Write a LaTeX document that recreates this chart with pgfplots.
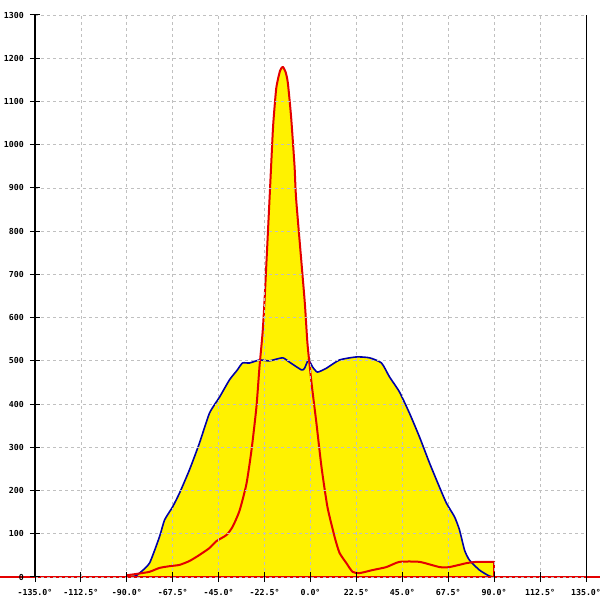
\documentclass[border=0pt]{standalone}
\usepackage{fontspec}
\setmonofont{DejaVu Sans Mono}
\usepackage{pgfplots}
\pgfplotsset{compat=1.18}
\definecolor{cred}{RGB}{228,0,0}
\definecolor{cblue}{RGB}{0,0,170}
\definecolor{cgrid}{RGB}{192,192,192}
\begin{document}
\begin{tikzpicture}
\useasboundingbox (-26.25pt,-17.25pt) rectangle (423.75pt,432.75pt);
\begin{axis}[
  at={(0,0)}, anchor=south west,
  scale only axis, width=413.25pt, height=421.5pt,
  xmin=-135, xmax=135, ymin=0, ymax=1300,
  clip=false,
  axis on top,
  axis line style={draw=none},
  tick pos=left,
  tick align=center,
  major tick length=7.5pt,
  every tick/.style={black, line width=0.75pt},
  xmajorgrids, ymajorgrids,
  grid style={cgrid, line width=0.6pt, dash pattern=on 2.25pt off 2.25pt},
  xtick={-135,-112.5,-90,-67.5,-45,-22.5,0,22.5,45,67.5,90,112.5,135},
  xticklabels={-135.0°,-112.5°,-90.0°,-67.5°,-45.0°,-22.5°,0.0°,22.5°,45.0°,67.5°,90.0°,112.5°,135.0°},
  ytick={0,100,...,1300},
  yticklabels={0,100,200,300,400,500,600,700,800,900,1000,1100,1200,1300},
  tick label style={font=\ttfamily\bfseries\fontsize{6.2}{7}\selectfont, inner sep=0pt},
  xticklabel style={anchor=north, yshift=-5.5pt},
  yticklabel style={anchor=east, xshift=-4.5pt},
]
% yellow fills
\addplot[fill=yellow, draw=none, smooth, tension=0.35] coordinates {
(-90,0) (-86,2) (-83.8,9) (-78.9,32) (-74,93) (-71.5,132) (-67.6,162) (-64.2,194) (-59.3,248) (-54.4,310) (-49.5,379) (-44.6,416) (-39.7,456) (-36,478) (-33.3,495) (-29.9,495) (-25,502) (-20.1,500) (-13.7,507) (-10.3,497) (-4.4,479) (-2.9,483) (-1,502) (1,486) (3.4,474) (7.8,483) (14.2,502) (22.5,509) (28.9,507) (34.8,495) (38.7,463) (43.6,428) (48.5,379) (53.4,324) (58.3,264) (63.2,208) (66.6,171) (70.6,139) (73,109) (75.5,62) (77.9,39) (82.8,16) (87.7,2) (90,0)
} \closedcycle;
\addplot[fill=yellow, draw=none, smooth, tension=0.35] coordinates {
(-90,4) (-84,8) (-78.9,12) (-74,21) (-69.1,25) (-64.2,28) (-59.3,37) (-54.4,51) (-49.5,67) (-46.1,83) (-41.2,97) (-38.2,116) (-34.8,153) (-31.4,215) (-28.9,294) (-26.5,393) (-25,486) (-23.5,564) (-22.5,641) (-20.1,872) (-19.2,960) (-18.3,1045) (-16.8,1130) (-15,1170) (-13.6,1180) (-12.2,1168) (-11.1,1143) (-9.5,1064) (-7.8,949) (-7,872) (-2.9,641) (-1.5,541) (0.5,449) (2.9,356) (5.4,254) (8.3,162) (11.8,93) (14.2,56) (17.6,32) (20.6,12) (24,9) (30.4,16) (37.2,23) (43.6,35) (53.4,35) (63.2,23) (68.1,23) (76.4,32) (81.3,35) (89.5,35) (90,35)
} \closedcycle;
% blue line
\addplot[cblue, line width=1.2pt, line join=round, smooth, tension=0.35] coordinates {
(-90,0) (-86,2) (-83.8,9) (-78.9,32) (-74,93) (-71.5,132) (-67.6,162) (-64.2,194) (-59.3,248) (-54.4,310) (-49.5,379) (-44.6,416) (-39.7,456) (-36,478) (-33.3,495) (-29.9,495) (-25,502) (-20.1,500) (-13.7,507) (-10.3,497) (-4.4,479) (-2.9,483) (-1,502) (1,486) (3.4,474) (7.8,483) (14.2,502) (22.5,509) (28.9,507) (34.8,495) (38.7,463) (43.6,428) (48.5,379) (53.4,324) (58.3,264) (63.2,208) (66.6,171) (70.6,139) (73,109) (75.5,62) (77.9,39) (82.8,16) (87.7,2) (90,0)
};
% red line
\addplot[cred, line width=1.5pt, line join=round, smooth, tension=0.35] coordinates {
(-90,4) (-84,8) (-78.9,12) (-74,21) (-69.1,25) (-64.2,28) (-59.3,37) (-54.4,51) (-49.5,67) (-46.1,83) (-41.2,97) (-38.2,116) (-34.8,153) (-31.4,215) (-28.9,294) (-26.5,393) (-25,486) (-23.5,564) (-22.5,641) (-20.1,872) (-19.2,960) (-18.3,1045) (-16.8,1130) (-15,1170) (-13.6,1180) (-12.2,1168) (-11.1,1143) (-9.5,1064) (-7.8,949) (-7,872) (-2.9,641) (-1.5,541) (0.5,449) (2.9,356) (5.4,254) (8.3,162) (11.8,93) (14.2,56) (17.6,32) (20.6,12) (24,9) (30.4,16) (37.2,23) (43.6,35) (53.4,35) (63.2,23) (68.1,23) (76.4,32) (81.3,35) (89.5,35) (90,35)
};
\addplot[cred, line width=1.5pt] coordinates {(90,35) (90,0)};
% red baseline
\addplot[cred, line width=2.2pt] coordinates {(-160,0) (150,0)};
\end{axis}
\draw[black, line width=0.75pt] (current axis.south west) -- (current axis.north west);
\draw[black, line width=0.75pt] (current axis.south east) -- (current axis.north east);
\end{tikzpicture}
\end{document}
